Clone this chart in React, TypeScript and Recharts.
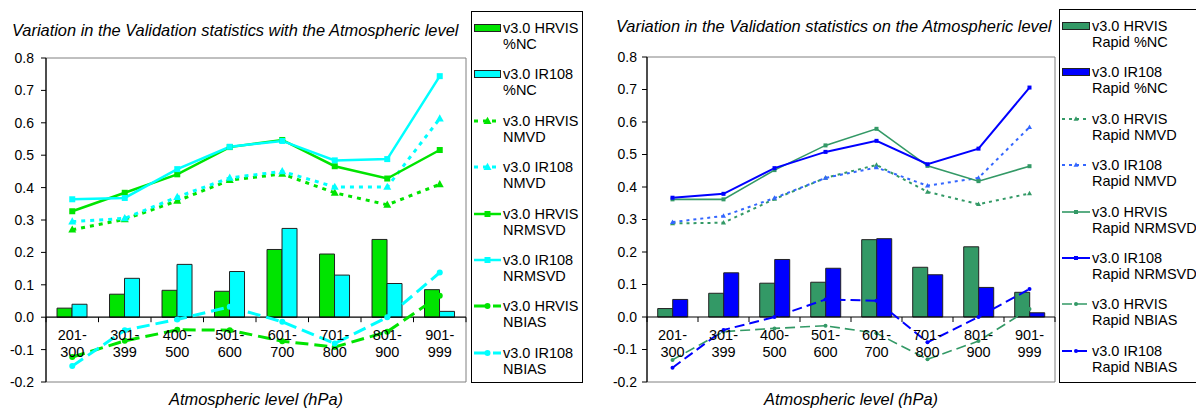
import React from 'react';
import { ComposedChart, Bar, Line, XAxis, YAxis, ReferenceArea, ReferenceLine } from 'recharts';

const FONT = '"Liberation Sans", Arial, Helvetica, sans-serif';

// ---------- data ----------
const categories = ['201-300', '301-399', '400-500', '501-600', '601-700', '701-800', '801-900', '901-999'];
const yTicks = [-0.2, -0.1, 0, 0.1, 0.2, 0.3, 0.4, 0.5, 0.6, 0.7, 0.8];

// left panel
const hrvisNC = [0.028, 0.071, 0.083, 0.080, 0.209, 0.195, 0.240, 0.085];
const ir108NC = [0.040, 0.120, 0.163, 0.141, 0.274, 0.130, 0.104, 0.018];
const hrvisNMVD = [0.270, 0.302, 0.359, 0.423, 0.442, 0.384, 0.347, 0.410];
const ir108NMVD = [0.295, 0.305, 0.371, 0.430, 0.450, 0.402, 0.402, 0.613];
const hrvisNRMSVD = [0.327, 0.384, 0.441, 0.525, 0.547, 0.466, 0.428, 0.516];
const ir108NRMSVD = [0.364, 0.368, 0.457, 0.526, 0.544, 0.484, 0.488, 0.744];
const hrvisNBIAS = [-0.123, -0.073, -0.039, -0.040, -0.074, -0.092, -0.045, 0.066];
const ir108NBIAS = [-0.151, -0.040, -0.007, 0.032, -0.014, -0.081, 0.000, 0.138];

// right panel (Rapid)
const rHrvisNC = [0.026, 0.073, 0.104, 0.107, 0.238, 0.153, 0.216, 0.076];
const rIr108NC = [0.054, 0.136, 0.177, 0.150, 0.241, 0.130, 0.091, 0.013];
const rHrvisNMVD = [0.288, 0.290, 0.363, 0.428, 0.468, 0.385, 0.347, 0.380];
const rIr108NMVD = [0.292, 0.311, 0.366, 0.428, 0.460, 0.404, 0.428, 0.584];
const rHrvisNRMSVD = [0.362, 0.362, 0.452, 0.528, 0.579, 0.465, 0.418, 0.464];
const rIr108NRMSVD = [0.367, 0.379, 0.458, 0.508, 0.542, 0.470, 0.518, 0.706];
const rHrvisNBIAS = [-0.132, -0.045, -0.035, -0.027, -0.050, -0.130, -0.074, 0.025];
const rIr108NBIAS = [-0.156, -0.040, 0.000, 0.054, 0.050, -0.078, 0.000, 0.086];

const leftTitle = 'Variation in the Validation statistics with the Atmospheric level';
const rightTitle = 'Variation in the Validation statistics on the Atmospheric level';
const xTitle = 'Atmospheric level (hPa)';

// ---------- series definitions ----------
type Marker = 'square' | 'triangle' | 'circle';
type Series = {
  key: string;
  values: number[];
  label: [string, string];
  color: string;
  kind: 'bar' | 'line';
  dash?: string;
  marker?: Marker;
  width?: number;
  msize?: number;
};

const G = '#00E400';
const C = '#00FFFF';
const SG = '#339966';
const B = '#0000FF';
const LB = '#3366FF';

const leftSeries: Series[] = [
  { key: 'hNC', values: hrvisNC, label: ['v3.0 HRVIS', '%NC'], color: G, kind: 'bar' },
  { key: 'iNC', values: ir108NC, label: ['v3.0 IR108', '%NC'], color: C, kind: 'bar' },
  { key: 'hMV', values: hrvisNMVD, label: ['v3.0 HRVIS', 'NMVD'], color: G, kind: 'line', dash: '4 5', marker: 'triangle', width: 3, msize: 8 },
  { key: 'iMV', values: ir108NMVD, label: ['v3.0 IR108', 'NMVD'], color: C, kind: 'line', dash: '4 5', marker: 'triangle', width: 3, msize: 8 },
  { key: 'hRM', values: hrvisNRMSVD, label: ['v3.0 HRVIS', 'NRMSVD'], color: G, kind: 'line', marker: 'square', width: 2.5, msize: 6 },
  { key: 'iRM', values: ir108NRMSVD, label: ['v3.0 IR108', 'NRMSVD'], color: C, kind: 'line', marker: 'square', width: 2.5, msize: 6 },
  { key: 'hNB', values: hrvisNBIAS, label: ['v3.0 HRVIS', 'NBIAS'], color: G, kind: 'line', dash: '13 6', marker: 'circle', width: 3, msize: 6 },
  { key: 'iNB', values: ir108NBIAS, label: ['v3.0 IR108', 'NBIAS'], color: C, kind: 'line', dash: '13 6', marker: 'circle', width: 3, msize: 6 },
];

const rightSeries: Series[] = [
  { key: 'hNC', values: rHrvisNC, label: ['v3.0 HRVIS', 'Rapid %NC'], color: SG, kind: 'bar' },
  { key: 'iNC', values: rIr108NC, label: ['v3.0 IR108', 'Rapid %NC'], color: B, kind: 'bar' },
  { key: 'hMV', values: rHrvisNMVD, label: ['v3.0 HRVIS', 'Rapid NMVD'], color: SG, kind: 'line', dash: '3 4', marker: 'triangle', width: 2, msize: 5 },
  { key: 'iMV', values: rIr108NMVD, label: ['v3.0 IR108', 'Rapid NMVD'], color: LB, kind: 'line', dash: '3 4', marker: 'triangle', width: 2, msize: 5 },
  { key: 'hRM', values: rHrvisNRMSVD, label: ['v3.0 HRVIS', 'Rapid NRMSVD'], color: SG, kind: 'line', marker: 'square', width: 1.6, msize: 4 },
  { key: 'iRM', values: rIr108NRMSVD, label: ['v3.0 IR108', 'Rapid NRMSVD'], color: B, kind: 'line', marker: 'square', width: 2, msize: 4 },
  { key: 'hNB', values: rHrvisNBIAS, label: ['v3.0 HRVIS', 'Rapid NBIAS'], color: SG, kind: 'line', dash: '10 5', marker: 'circle', width: 1.6, msize: 4 },
  { key: 'iNB', values: rIr108NBIAS, label: ['v3.0 IR108', 'Rapid NBIAS'], color: B, kind: 'line', dash: '10 5', marker: 'circle', width: 2, msize: 4 },
];

// ---------- helpers ----------
function markerEl(shape: Marker, cx: number, cy: number, size: number, color: string, key?: any) {
  if (shape === 'square') {
    return <rect key={key} x={cx - size / 2} y={cy - size / 2} width={size} height={size} fill={color} />;
  }
  if (shape === 'triangle') {
    const h = size * 0.9;
    return (
      <polygon
        key={key}
        points={`${cx},${cy - h * 0.6} ${cx - size / 2},${cy + h * 0.4} ${cx + size / 2},${cy + h * 0.4}`}
        fill={color}
      />
    );
  }
  return <circle key={key} cx={cx} cy={cy} r={size / 2} fill={color} />;
}

const makeDot = (s: Series) => (props: any) => {
  const { cx, cy, index } = props;
  if (cx == null || cy == null) return <g key={`d${index}`} />;
  return markerEl(s.marker as Marker, cx, cy, s.msize || 5, s.color, `d${index}`);
};

type PanelProps = {
  left: number;
  width: number;
  yAxisWidth: number;
  top: number;
  rightMargin: number;
  series: Series[];
  title: string;
  titleLeft: number;
  titleTop: number;
  legendLeft: number;
  legendTop: number;
  legendWidth: number;
  legendIconW: number;
  tickMargin: number;
};

const HEIGHT = 410;
const XAXIS_H = 28;
const YMIN = -0.2;
const YMAX = 0.8;

function Panel(p: PanelProps) {
  const data = categories.map((c, i) => {
    const row: any = { cat: c };
    p.series.forEach((s) => {
      row[s.key] = s.values[i];
    });
    return row;
  });
  const plotW = p.width - p.yAxisWidth - p.rightMargin;
  const plotH = HEIGHT - p.top - XAXIS_H;
  const band = plotW / categories.length;
  const zeroY = p.top + (plotH * (YMAX - 0)) / (YMAX - YMIN);

  const renderTick = (tp: any) => {
    const { x, payload, index } = tp;
    const parts = String(payload.value).split('-');
    const isLast = index === categories.length - 1;
    return (
      <g key={`t${index}`}>
        <line x1={x - band / 2} x2={x - band / 2} y1={zeroY} y2={zeroY + 5} stroke="#000" strokeWidth={1} />
        {isLast && <line x1={x + band / 2} x2={x + band / 2} y1={zeroY} y2={zeroY + 5} stroke="#000" strokeWidth={1} />}
        <text x={x} y={zeroY + 22.5} textAnchor="middle" fontSize={14.5} fontFamily={FONT} fill="#000">
          {parts[0] + '-'}
        </text>
        <text x={x} y={zeroY + 40} textAnchor="middle" fontSize={14.5} fontFamily={FONT} fill="#000">
          {parts[1]}
        </text>
      </g>
    );
  };

  return (
    <>
      <div
        style={{
          position: 'absolute',
          left: p.titleLeft,
          top: p.titleTop,
          fontFamily: FONT,
          fontStyle: 'italic',
          fontSize: 16.4,
          lineHeight: '18px',
          whiteSpace: 'nowrap',
          color: '#000',
        }}
      >
        {p.title}
      </div>
      <div style={{ position: 'absolute', left: p.left, top: 0 }}>
        <ComposedChart
          width={p.width}
          height={HEIGHT}
          data={data}
          margin={{ top: p.top, right: p.rightMargin, left: 0, bottom: 0 }}
          barGap={0}
          barCategoryGap="21%"
        >
          <ReferenceArea y1={YMIN} y2={YMAX} stroke="#808080" strokeWidth={1} fill="none" fillOpacity={0} ifOverflow="visible" />
          <XAxis
            dataKey="cat"
            axisLine={false}
            tickLine={false}
            interval={0}
            height={XAXIS_H}
            tick={renderTick}
            label={{ value: xTitle, position: 'insideBottom', offset: 5, fontSize: 16.4, fontStyle: 'italic', fontFamily: FONT, fill: '#000' }}
          />
          <YAxis
            type="number"
            domain={[YMIN, YMAX]}
            ticks={yTicks}
            width={p.yAxisWidth}
            tickFormatter={(v: number) => v.toFixed(1)}
            tick={{ fontSize: 14, fontFamily: FONT, fill: '#000' }}
            tickSize={5}
            tickMargin={p.tickMargin}
            axisLine={{ stroke: '#000', strokeWidth: 1.2 }}
            tickLine={{ stroke: '#000' }}
            allowDataOverflow
          />
          <ReferenceLine y={0} stroke="#000" strokeWidth={1.2} />
          {p.series
            .filter((s) => s.kind === 'bar')
            .map((s) => (
              <Bar key={s.key} dataKey={s.key} fill={s.color} stroke="#222" strokeWidth={1} isAnimationActive={false} />
            ))}
          {p.series
            .filter((s) => s.kind === 'line')
            .map((s) => (
              <Line
                key={s.key}
                type="linear"
                dataKey={s.key}
                stroke={s.color}
                strokeWidth={s.width}
                strokeDasharray={s.dash}
                dot={makeDot(s)}
                activeDot={false}
                isAnimationActive={false}
              />
            ))}
        </ComposedChart>
      </div>
      <div
        style={{
          position: 'absolute',
          left: p.legendLeft,
          top: p.legendTop,
          width: p.legendWidth,
          height: 383 - p.legendTop,
          border: '1px solid #000',
          boxSizing: 'border-box',
          background: '#fff',
          fontFamily: FONT,
          fontSize: 14.5,
          lineHeight: '16px',
          color: '#000',
          paddingTop: 8,
        }}
      >
        {p.series.map((s) => (
          <div key={s.key} style={{ position: 'relative', height: 46.4, paddingLeft: p.legendIconW + 4, whiteSpace: 'nowrap' }}>
            <svg width={p.legendIconW} height={16} style={{ position: 'absolute', left: 2, top: 0 }}>
              {s.kind === 'bar' ? (
                <rect x={0.5} y={4.5} width={p.legendIconW - 1} height={7} fill={s.color} stroke="#222" strokeWidth={1} />
              ) : (
                <>
                  <line x1={0} x2={p.legendIconW} y1={8} y2={8} stroke={s.color} strokeWidth={s.width} strokeDasharray={s.dash ? s.dash : undefined} />
                  {markerEl(s.marker as Marker, p.legendIconW / 2, 8, s.msize || 5, s.color)}
                </>
              )}
            </svg>
            <div>{s.label[0]}</div>
            <div>{s.label[1]}</div>
          </div>
        ))}
      </div>
    </>
  );
}

export default function App() {
  return (
    <div
      style={{
        position: 'absolute',
        left: 0,
        top: 0,
        width: 1196,
        height: 410,
        background: '#fff',
        overflow: 'hidden',
      }}
    >
      <Panel
        left={0}
        width={470}
        yAxisWidth={46}
        top={58}
        rightMargin={4}
        series={leftSeries}
        title={leftTitle}
        titleLeft={12}
        titleTop={21}
        legendLeft={471}
        legendTop={11}
        legendWidth={112}
        legendIconW={27}
        tickMargin={7}
      />
      <Panel
        left={590}
        width={469}
        yAxisWidth={57}
        top={57}
        rightMargin={4}
        series={rightSeries}
        title={rightTitle}
        titleLeft={616}
        titleTop={17}
        legendLeft={1059}
        legendTop={9}
        legendWidth={160}
        legendIconW={28}
        tickMargin={5}
      />
    </div>
  );
}
